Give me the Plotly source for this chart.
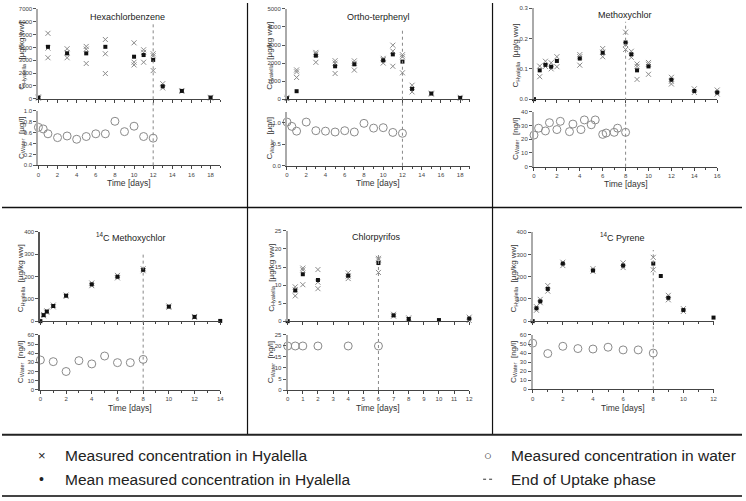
import plotly.graph_objects as go

W, H = 746, 501
FONT = "Liberation Sans, Arial, sans-serif"

# ---------------- DATA ----------------
# Hexachlorbenzene
hcb_cross_t = [0, 0, 1, 1, 1, 3, 3, 3, 5, 5, 5, 7, 7, 7, 10, 10, 10, 11, 11, 11, 12, 12, 12, 13, 13, 15, 15, 18, 18]
hcb_cross_c = [150, 50, 5100, 3950, 3200, 3900, 3600, 3200, 4080, 3870, 2750, 4620, 3510, 1970, 4360, 2850, 2640,
               3820, 3620, 2850, 3510, 3360, 2200, 1180, 850, 650, 580, 120, 60]
hcb_mean_t = [0, 1, 3, 5, 7, 10, 11, 12, 13, 15, 18]
hcb_mean_c = [100, 4050, 3540, 3540, 4050, 3280, 3410, 3030, 975, 615, 100]
hcb_water_t = [0, 0.5, 1, 2, 3, 4, 5, 6, 7, 8, 9, 10, 11, 12]
hcb_water_c = [0.70, 0.67, 0.58, 0.51, 0.54, 0.48, 0.53, 0.58, 0.58, 0.81, 0.62, 0.72, 0.53, 0.50]

# Ortho-terphenyl
otp_cross_t = [0, 0, 1, 1, 1, 3, 3, 3, 5, 5, 5, 7, 7, 7, 10, 10, 10, 11, 11, 11, 12, 12, 12, 13, 13, 15, 15, 18, 18]
otp_cross_c = [100, 30, 1620, 1510, 1200, 2590, 2500, 2040, 2130, 2000, 1420, 2120, 1990, 1610, 2260, 2190, 2000,
               2990, 2660, 1820, 2460, 2350, 1460, 770, 400, 330, 280, 100, 40]
otp_mean_t = [0, 1, 3, 5, 7, 10, 11, 12, 13, 15, 18]
otp_mean_c = [50, 440, 2410, 1820, 1930, 2150, 2480, 2080, 570, 310, 70]
otp_water_t = [0, 0.5, 1, 2, 3, 4, 5, 6, 7, 8, 9, 10, 11, 12]
otp_water_c = [1.01, 0.91, 0.80, 1.01, 0.81, 0.80, 0.78, 0.81, 0.78, 0.98, 0.87, 0.88, 0.77, 0.75]

# Methoxychlor
mxc_cross_t = [0.5, 0.5, 1, 1, 1.5, 1.5, 2, 2, 4, 4, 4, 6, 6, 6, 8, 8, 8, 8.5, 8.5, 9, 9, 9, 10, 10, 10,
               12, 12, 12, 14, 14, 16, 16]
mxc_cross_c = [0.109, 0.074, 0.125, 0.108, 0.120, 0.100, 0.140, 0.107, 0.147, 0.140, 0.112, 0.167, 0.155, 0.140,
               0.221, 0.180, 0.164, 0.158, 0.138, 0.116, 0.108, 0.065, 0.121, 0.115, 0.082,
               0.072, 0.059, 0.050, 0.034, 0.022, 0.030, 0.017]
mxc_mean_t = [0, 0.5, 1, 1.5, 2, 4, 6, 8, 8.5, 9, 10, 12, 14, 16]
mxc_mean_c = [0.0, 0.095, 0.113, 0.107, 0.126, 0.134, 0.153, 0.187, 0.148, 0.095, 0.108, 0.064, 0.027, 0.022]
mxc_water_t = [0, 0.4, 1, 1.35, 2, 2.3, 3.1, 3.4, 4.1, 4.4, 5.0, 5.35, 6.0, 6.3, 7.0, 7.3, 8.0]
mxc_water_c = [23, 28, 26, 32, 27, 33, 25.5, 31, 27, 34, 30.5, 34, 23.5, 24.5, 25, 28, 25]

# 14C Methoxychlor
cmx_cross_t = [0.25, 0.25, 0.5, 0.5, 1, 1, 2, 2, 4, 4, 6, 6, 8, 8, 10, 10, 12, 12]
cmx_cross_c = [30, 24, 46, 40, 72, 64, 117, 111, 171, 159, 205, 194, 235, 226, 68, 62, 21, 17]
cmx_mean_t = [0, 0.25, 0.5, 1, 2, 4, 6, 8, 10, 12, 14]
cmx_mean_c = [0, 27, 43, 68, 114, 165, 199, 230, 65, 19, 1]
cmx_water_t = [0, 1, 2, 3, 4, 5, 6, 7, 8]
cmx_water_c = [32.5, 30.7, 19.9, 31.8, 28.2, 36.9, 29.6, 29.6, 33.2]

# Chlorpyrifos
cpf_cross_t = [0.5, 0.5, 0.5, 1, 1, 1, 2, 2, 2, 4, 4, 4, 6, 6, 6, 7, 7, 8, 8, 12, 12]
cpf_cross_c = [9.5, 8.7, 7.0, 14.7, 14.2, 10.1, 14.3, 10.8, 9.0, 13.4, 12.5, 11.8, 17.4, 17.0, 13.5,
               1.9, 1.4, 0.9, 0.5, 1.1, 0.2]
cpf_mean_t = [0, 0.5, 1, 2, 4, 6, 7, 8, 10, 12]
cpf_mean_c = [0, 8.5, 13.0, 11.4, 12.6, 16.1, 1.6, 0.6, 0.3, 0.7]
cpf_water_t = [0, 0.5, 1, 2, 4, 6]
cpf_water_c = [20, 20, 20, 20, 20, 20]

# 14C Pyrene
pyr_cross_t = [0.25, 0.25, 0.5, 0.5, 1, 1, 2, 2, 4, 4, 6, 6, 8, 8, 9, 9, 10, 10]
pyr_cross_c = [65, 49, 98, 83, 160, 135, 265, 250, 236, 224, 262, 241, 287, 231, 116, 96, 56, 44]
pyr_mean_t = [0, 0.25, 0.5, 1, 2, 4, 6, 8, 8.5, 9, 10, 12]
pyr_mean_c = [0, 58, 89, 145, 259, 228, 250, 259, 203, 105, 50, 16]
pyr_water_t = [0, 1, 2, 3, 4, 5, 6, 7, 8]
pyr_water_c = [51, 39.5, 47.5, 45, 44.5, 46.5, 43.5, 43.5, 40]

titles = ["Hexachlorbenzene", "Ortho-terphenyl", "Methoxychlor",
          "<sup>14</sup>C Methoxychlor", "Chlorpyrifos", "<sup>14</sup>C Pyrene"]
ylab_top = ["C<sub>Hyalella</sub>  [µg/kg ww]", "C<sub>Hyalella</sub>  [µg/kg ww]", "C<sub>Hyalella</sub>  [µg/g ww]",
            "C<sub>Hyalella</sub>  [µg/kg ww]", "C<sub>Hyalella</sub>  [µg/kg ww]", "C<sub>Hyalella</sub>  [µg/kg ww]"]
ylab_bot = ["C<sub>Water</sub>  [µg/l]", "C<sub>Water</sub>  [µg/l]", "C<sub>Water</sub>  [ng/l]",
            "C<sub>Water</sub>  [ng/l]", "C<sub>Water</sub>  [ng/l]", "C<sub>Water</sub>  [ng/l]"]
uptake_end = [12, 12, 8, 8, 6, 8]
legend_labels = ["Measured concentration in Hyalella", "Mean measured concentration in Hyalella",
                 "Measured concentration in water", "End of Uptake phase"]

data = [
    (hcb_cross_t, hcb_cross_c, hcb_mean_t, hcb_mean_c, hcb_water_t, hcb_water_c),
    (otp_cross_t, otp_cross_c, otp_mean_t, otp_mean_c, otp_water_t, otp_water_c),
    (mxc_cross_t, mxc_cross_c, mxc_mean_t, mxc_mean_c, mxc_water_t, mxc_water_c),
    (cmx_cross_t, cmx_cross_c, cmx_mean_t, cmx_mean_c, cmx_water_t, cmx_water_c),
    (cpf_cross_t, cpf_cross_c, cpf_mean_t, cpf_mean_c, cpf_water_t, cpf_water_c),
    (pyr_cross_t, pyr_cross_c, pyr_mean_t, pyr_mean_c, pyr_water_t, pyr_water_c),
]

# ---------------- LAYOUT GEOMETRY (pixels) ----------------
geo = [
    dict(x0=36.7, x1=219.9, xmax=19, xd=2, top=(6, 97), bot=(109.3, 164.3), yt=(7000, 1000, ""), yb=(1.0, 0.2, ".1f"),
         ylx=20, timey=182, dash_top=20, yaxc="#aaaaaa", tx=127, ty=14),
    dict(x0=287.3, x1=471.6, xmax=19, xd=2, top=(6, 97.3), bot=(110, 164.7), yt=(5000, 1000, ""), yb=(1.25, 0.5, ".1f"),
         ylx=270, timey=182, dash_top=28, yaxc="#aaaaaa", tx=380, ty=14),
    dict(x0=536.3, x1=721, xmax=16, xd=2, top=(5.3, 97.3), bot=(110, 165.7), yt=(0.3, 0.1, ".1f"), yb=(40, 10, ""),
         ylx=518, timey=183, dash_top=19, yaxc="#aaaaaa", tx=628, ty=12),
    dict(x0=38.7, x1=220, xmax=14, xd=2, top=(231.7, 322), bot=(336, 391.3), yt=(400, 100, ""), yb=(60, 10, ""),
         ylx=19, timey=410, dash_top=253, yaxc="#555555", tx=130, ty=237),
    dict(x0=288, x1=471, xmax=12, xd=1, top=(230.7, 322), bot=(336, 391.7), yt=(25, 5, ""), yb=(25, 5, ""),
         ylx=272, timey=410, dash_top=253, yaxc="#aaaaaa", tx=378, ty=237),
    dict(x0=535, x1=717.3, xmax=12, xd=2, top=(232, 322), bot=(336, 391), yt=(400, 100, ""), yb=(60, 10, ""),
         ylx=516, timey=410, dash_top=250, yaxc="#aaaaaa", tx=626, ty=237),
]


def fx(p):
    return p / W


def fy(p):
    return 1 - p / H


fig = go.Figure()
layout = dict(width=W, height=H, autosize=False, margin=dict(l=0, r=0, t=0, b=0),
              paper_bgcolor="white", plot_bgcolor="rgba(0,0,0,0)", showlegend=False,
              font=dict(family=FONT, color="#333"))
annotations = []
shapes = []

for k, (g, d) in enumerate(zip(geo, data)):
    it, ib = 2 * k + 1, 2 * k + 2
    nt = "" if it == 1 else str(it)
    nb = str(ib)
    ct, cc, mt, mc, wt, wc = d
    fig.add_trace(go.Scatter(x=ct, y=cc, mode="markers", xaxis="x" + nt, yaxis="y" + nt, cliponaxis=False,
                             marker=dict(symbol="x-thin-open", size=5, color="#8a8a8a",
                                         line=dict(width=1, color="#8a8a8a"))))
    fig.add_trace(go.Scatter(x=mt, y=mc, mode="markers", xaxis="x" + nt, yaxis="y" + nt, cliponaxis=False,
                             marker=dict(symbol="square", size=4, color="#111111")))
    fig.add_trace(go.Scatter(x=wt, y=wc, mode="markers", xaxis="x" + nb, yaxis="y" + nb, cliponaxis=False,
                             marker=dict(symbol="circle-open", size=8, color="#8a8a8a",
                                         line=dict(width=1, color="#8a8a8a"))))
    common_x = dict(domain=[fx(g["x0"]), fx(g["x1"])], range=[0, g["xmax"]], showline=True, linecolor="#444",
                    linewidth=1, ticks="outside", ticklen=3, tickcolor="#444", tick0=0, dtick=g["xd"],
                    showgrid=False, zeroline=False, tickfont=dict(size=6, color="#444", family=FONT),
                    minor=dict(ticks="outside", ticklen=2, dtick=1, tickcolor="#444"))
    layout["xaxis" + nt] = dict(common_x, anchor="y" + nt, showticklabels=False)
    layout["xaxis" + nb] = dict(common_x, anchor="y" + nb, showticklabels=True)
    for nm, (a, b), (ymax, dt, fmt) in ((nt, g["top"], g["yt"]), (nb, g["bot"], g["yb"])):
        layout["yaxis" + nm] = dict(domain=[fy(b), fy(a)], range=[0, ymax], anchor="x" + nm, showline=True,
                                    linecolor=g["yaxc"], linewidth=2, ticks="outside", ticklen=3,
                                    tickcolor="#555", tick0=0, dtick=dt, tickformat=fmt, showgrid=False,
                                    zeroline=False, tickfont=dict(size=6, color="#444", family=FONT))
    xc = (g["x0"] + g["x1"]) / 2
    annotations.append(dict(text=titles[k], x=fx(g["tx"]), y=fy(g["ty"]), xref="paper", yref="paper",
                            showarrow=False, font=dict(size=9, color="#222"), xanchor="center", yanchor="middle"))
    annotations.append(dict(text="Time [days]", x=fx(xc), y=fy(g["timey"]), xref="paper", yref="paper",
                            showarrow=False, font=dict(size=8.5, color="#333"), xanchor="center", yanchor="middle"))
    annotations.append(dict(text=ylab_top[k], x=fx(g["ylx"]), y=fy((g["top"][0] + g["top"][1]) / 2 + 2),
                            xref="paper", yref="paper", showarrow=False, textangle=-90,
                            font=dict(size=8, color="#333"), xanchor="center", yanchor="middle"))
    annotations.append(dict(text=ylab_bot[k], x=fx(g["ylx"]), y=fy((g["bot"][0] + g["bot"][1]) / 2),
                            xref="paper", yref="paper", showarrow=False, textangle=-90,
                            font=dict(size=8, color="#333"), xanchor="center", yanchor="middle"))
    shapes.append(dict(type="line", xref="x" + nb, yref="paper", x0=uptake_end[k], x1=uptake_end[k],
                       y0=fy(g["bot"][1]), y1=fy(g["dash_top"]), line=dict(color="#888", width=1, dash="dot")))

# frame lines
shapes += [
    dict(type="line", xref="paper", yref="paper", x0=0, x1=1, y0=fy(207), y1=fy(207), line=dict(color="#111", width=1.5)),
    dict(type="line", xref="paper", yref="paper", x0=fx(247.5), x1=fx(247.5), y0=fy(0), y1=fy(437), line=dict(color="#111", width=1.2)),
    dict(type="line", xref="paper", yref="paper", x0=fx(494.5), x1=fx(494.5), y0=fy(0), y1=fy(437), line=dict(color="#111", width=1.2)),
    dict(type="line", xref="paper", yref="paper", x0=0, x1=1, y0=fy(437), y1=fy(437), line=dict(color="#222", width=2)),
    dict(type="line", xref="paper", yref="paper", x0=0, x1=1, y0=fy(499), y1=fy(499), line=dict(color="#444", width=2)),
    dict(type="line", xref="paper", yref="paper", x0=fx(485), x1=fx(496), y0=fy(482), y1=fy(482), line=dict(color="#333", width=1, dash="dot")),
]

# legend
for sym, sx, sy, sz in (("×", 40, 458, 13), ("•", 40, 482, 14), ("○", 490, 458, 13)):
    annotations.append(dict(text=sym, x=fx(sx), y=fy(sy), xref="paper", yref="paper", showarrow=False,
                            font=dict(size=sz, color="#222"), xanchor="center", yanchor="middle"))
for sx, sy, txt in ((61, 458, legend_labels[0]), (61, 482, legend_labels[1]), (511, 458, legend_labels[2]),
                    (511, 482, legend_labels[3])):
    annotations.append(dict(text=txt, x=fx(sx), y=fy(sy), xref="paper", yref="paper", showarrow=False,
                            font=dict(size=15.5, color="#222"), xanchor="left", yanchor="middle"))

layout["annotations"] = annotations
layout["shapes"] = shapes
fig.update_layout(**layout)
fig.write_html("out.html", config={"displayModeBar": False},
               post_script="document.body.style.margin='0';document.body.style.padding='0';")
